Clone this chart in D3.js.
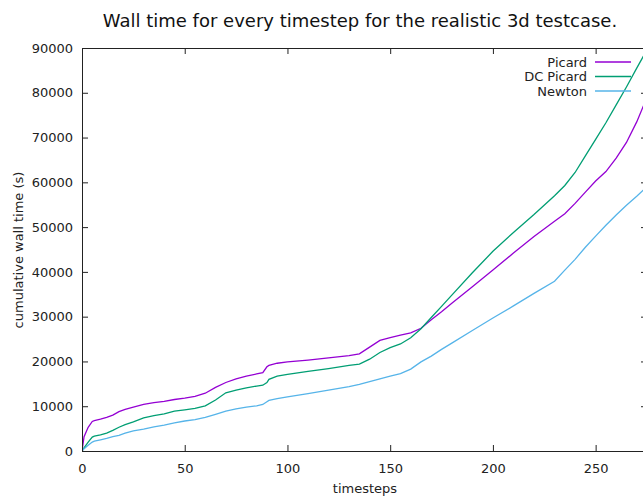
<!DOCTYPE html>
<html><head><meta charset="utf-8">
<script src="https://cdn.jsdelivr.net/npm/d3@7"></script>
<style>
body{margin:0;background:#fff;}
svg{display:block;font-family:"DejaVu Sans",sans-serif;}
</style></head>
<body><svg id="c" width="643" height="498"></svg>
<script>
const timesteps = [0,1,3,5,6,9,12,15,18,21,25,30,35,40,45,50,55,60,65,70,75,80,85,88,90,91,95,100,110,120,130,135,140,145,150,155,160,165,170,175,180,190,200,210,220,230,235,240,245,250,255,260,265,270,275];
const picard = [0,3200,5300,6600,6800,7100,7500,8000,8800,9300,9800,10400,10800,11100,11500,11800,12200,12900,14200,15300,16100,16700,17200,17500,18800,19100,19600,19900,20300,20800,21300,21700,23200,24700,25300,25900,26400,27400,29300,31100,33000,36700,40400,44200,47900,51300,53000,55300,57800,60300,62400,65400,68900,73500,79000];
const dcPicard = [0,700,2000,3100,3300,3600,4000,4600,5300,5900,6500,7400,7900,8300,8900,9200,9500,10100,11400,13000,13600,14100,14500,14700,15300,16000,16700,17100,17800,18400,19100,19400,20500,22000,23100,23900,25300,27300,29800,32300,34800,39800,44600,48800,52800,57000,59300,62200,65900,69600,73300,77300,81300,85500,89600];
const newton = [0,500,1300,2000,2200,2500,2800,3200,3500,4000,4500,4900,5400,5800,6300,6700,7000,7500,8200,8900,9400,9800,10100,10400,11000,11300,11700,12100,12800,13600,14400,14900,15500,16100,16700,17300,18300,19900,21200,22700,24100,26900,29700,32400,35200,37900,40400,42800,45500,48000,50400,52700,54900,56900,59000];
const seriesNames = ["Picard","DC Picard","Newton"];
const seriesColors = ["#9400d3","#009e73","#56b4e9"];
const xTicks = [0,50,100,150,200,250];
const yTicks = [0,10000,20000,30000,40000,50000,60000,70000,80000,90000];
const titleText = "Wall time for every timestep for the realistic 3d testcase.";
const xLabel = "timesteps";
const yLabel = "cumulative wall time (s)";

const svg = d3.select("#c");
const L=82, R=647, T=48, B=451;
const x = d3.scaleLinear().domain([0,275]).range([L,R]);
const y = d3.scaleLinear().domain([0,90000]).range([B,T]);

const defs = svg.append("defs");
defs.append("clipPath").attr("id","clip").append("rect").attr("x",L).attr("y",T).attr("width",R-L).attr("height",B-T);

const data = [picard,dcPicard,newton];
const line = d3.line().x(d=>x(d[0])).y(d=>y(d[1]));
data.forEach((vals,i)=>{
  svg.append("path").attr("clip-path","url(#clip)")
    .datum(timesteps.map((t,j)=>[t,vals[j]]))
    .attr("d",line).attr("fill","none").attr("stroke",seriesColors[i]).attr("stroke-width",1.3);
});

const tl=6;
const ax = svg.append("g").attr("transform",`translate(0,${B})`)
  .call(d3.axisBottom(x).tickValues(xTicks).tickSizeInner(-tl).tickSizeOuter(0).tickPadding(13));
const axT = svg.append("g").attr("transform",`translate(0,${T})`)
  .call(d3.axisTop(x).tickValues(xTicks).tickSizeInner(-tl).tickSizeOuter(0).tickFormat(""));
const ay = svg.append("g").attr("transform",`translate(${L},0)`)
  .call(d3.axisLeft(y).tickValues(yTicks).tickSizeInner(-tl).tickSizeOuter(0).tickPadding(9).tickFormat(d3.format("d")));
const ayR = svg.append("g").attr("transform",`translate(${R},0)`)
  .call(d3.axisRight(y).tickValues(yTicks).tickSizeInner(-tl).tickSizeOuter(0).tickFormat(""));
[ax,axT,ay,ayR].forEach(g=>{
  g.selectAll("path").attr("stroke","#222").attr("stroke-width",1);
  g.selectAll("line").attr("stroke","#222").attr("stroke-width",1);
  g.selectAll("text").attr("fill","#222").style("font-size","13px").style("font-family","DejaVu Sans, sans-serif");
});

svg.append("text").attr("x",360).attr("y",27).attr("text-anchor","middle")
  .style("font-size","18px").attr("fill","#111").text(titleText);
svg.append("text").attr("x",365).attr("y",493).attr("text-anchor","middle")
  .style("font-size","13px").attr("fill","#222").text(xLabel);
svg.append("text").attr("transform","translate(23,250) rotate(-90)").attr("text-anchor","middle")
  .style("font-size","13px").attr("fill","#222").text(yLabel);

const lg = svg.append("g");
seriesNames.forEach((n,i)=>{
  const yy = 62 + i*14.5;
  lg.append("text").attr("x",587).attr("y",yy).attr("dy","0.35em").attr("text-anchor","end")
    .style("font-size","13px").attr("fill","#222").text(n);
  lg.append("line").attr("x1",595).attr("x2",631).attr("y1",yy).attr("y2",yy)
    .attr("stroke",seriesColors[i]).attr("stroke-width",1.3);
});
</script></body></html>
